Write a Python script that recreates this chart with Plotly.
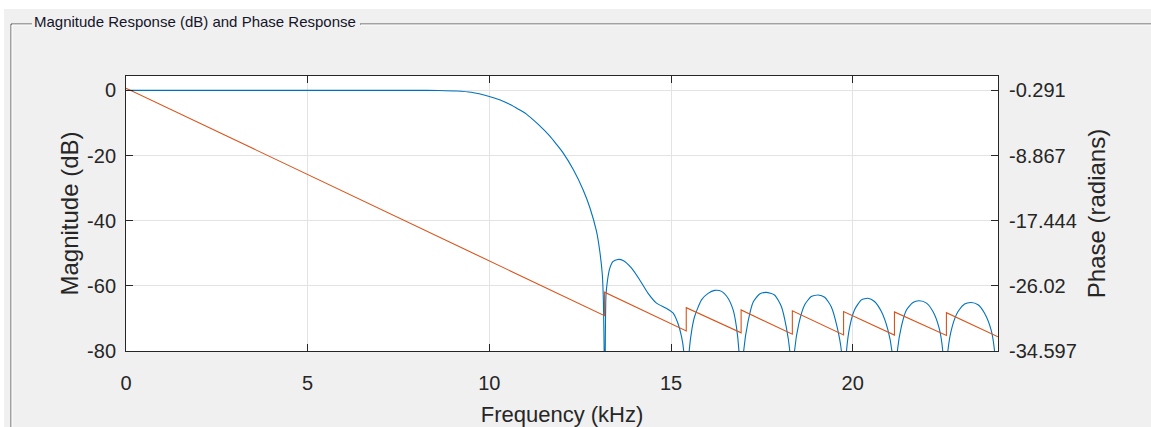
import plotly.graph_objects as go

# Magnitude response of the low-pass FIR filter (frequency in kHz, magnitude in dB)
freq_khz = [
    0.0, 2.0, 4.0, 6.0, 8.0, 8.6, 9.1, 9.5, 10.0, 10.3, 10.56, 10.8, 11.02, 11.34,
    11.66, 11.85, 12.03, 12.31, 12.58, 12.77, 12.95, 13.04, 13.11, 13.14, 13.16,
    13.175, 13.19, 13.21, 13.25, 13.31, 13.4, 13.54, 13.68, 13.91, 14.14, 14.37,
    14.6, 14.87, 15.06, 15.19, 15.29, 15.35, 15.42, 15.5, 15.58, 15.65, 15.84,
    16.02, 16.2, 16.39, 16.57, 16.71, 16.8, 16.87, 16.93, 17.0, 17.12, 17.26,
    17.44, 17.62, 17.85, 18.04, 18.17, 18.27, 18.34, 18.4, 18.52, 18.68, 18.86,
    19.05, 19.23, 19.41, 19.57, 19.69, 19.75, 19.83, 19.92, 20.05, 20.24, 20.42,
    20.6, 20.79, 20.97, 21.08, 21.15, 21.23, 21.34, 21.48, 21.66, 21.84, 22.03,
    22.21, 22.38, 22.48, 22.55, 22.62, 22.74, 22.9, 23.08, 23.26, 23.45, 23.63,
    23.81, 23.9, 24.0,
]
mag_db = [
    0.0, 0.0, 0.0, 0.0, 0.0, -0.05, -0.2, -0.6, -1.9, -3.0, -4.3, -5.8, -7.3, -10.4,
    -14.0, -16.6, -19.2, -24.3, -30.5, -36.1, -43.3, -49.4, -56.6, -65.0, -80.0,
    -100.0, -80.0, -63.0, -58.5, -54.8, -52.6, -51.9, -52.2, -54.5, -58.2, -62.3,
    -65.3, -66.9, -68.4, -71.5, -75.6, -80.0, -100.0, -80.0, -73.0, -69.4, -64.3,
    -62.3, -61.4, -61.7, -63.8, -67.4, -72.5, -80.0, -100.0, -80.0, -71.0, -65.0,
    -62.5, -62.0, -62.8, -66.4, -72.5, -80.0, -100.0, -80.0, -71.5, -65.8, -63.3,
    -62.8, -63.5, -66.4, -72.5, -80.0, -100.0, -80.0, -72.5, -67.4, -64.3, -63.8,
    -64.8, -67.9, -73.5, -80.0, -100.0, -80.0, -72.5, -67.4, -65.1, -64.6, -65.3,
    -67.9, -73.0, -80.0, -100.0, -80.0, -72.5, -67.9, -65.6, -65.1, -65.8, -68.4,
    -73.5, -79.5, -100.0,
]

# Linear phase, wrapped by +pi at every stop-band zero (radians)
phase_freq_khz = [
    0.0, 13.17, 13.17, 15.42, 15.42, 16.93, 16.93, 18.34, 18.34,
    19.75, 19.75, 21.15, 21.15, 22.58, 22.58, 24.0,
]
phase_rad = [
    0.0, -29.95, -26.85, -31.95, -28.90, -32.20, -29.20, -32.38, -29.30,
    -32.48, -29.40, -32.50, -29.45, -32.55, -29.55, -32.72,
]

freq_ticks = [0, 5, 10, 15, 20]
mag_ticks = [0, -20, -40, -60, -80]
mag_tick_text = ["0", "-20", "-40", "-60", "-80"]
phase_ticks = [-0.291, -8.867, -17.444, -26.02, -34.597]
phase_tick_text = ["-0.291", "-8.867", "-17.444", "-26.02", "-34.597"]

W, H = 1151, 427
L, R, T, B = 126, 153, 76, 76
PW, PH = W - L - R, H - T - B

MAG_RANGE = [-80, 4.4]
# the phase axis is scaled so that its ticks sit on the magnitude ticks
PH_SCALE = (phase_ticks[0] - phase_ticks[-1]) / (mag_ticks[0] - mag_ticks[-1])
PHASE_RANGE = [phase_ticks[-1], phase_ticks[0] + PH_SCALE * MAG_RANGE[1]]

FONT = "Liberation Sans, Arial, sans-serif"
TXT = "#262626"
BLUE = "#0072BD"
ORANGE = "#D95319"
GRID = "#e3e3e3"
ETCH = "#555555"


def xp(px):
    return (px - L) / PW


def yp(py):
    return (H - B - py) / PH


fig = go.Figure()
fig.add_trace(go.Scatter(
    x=freq_khz, y=mag_db, mode="lines", name="Magnitude",
    line=dict(color=BLUE, width=1.1, shape="spline", smoothing=0.6),
    hoverinfo="skip",
))
fig.add_trace(go.Scatter(
    x=phase_freq_khz, y=phase_rad, mode="lines", name="Phase", yaxis="y2",
    line=dict(color=ORANGE, width=1.1),
    hoverinfo="skip",
))

axis_common = dict(
    showline=True, linecolor=TXT, linewidth=1,
    ticks="inside", ticklen=7, tickcolor=TXT, tickwidth=1,
    zeroline=False, automargin=False,
    tickfont=dict(family=FONT, size=20, color=TXT),
)
title_font = dict(family=FONT, size=22, color=TXT)
vtitle_font = dict(family=FONT, size=24, color=TXT)

fig.update_layout(
    width=W, height=H,
    margin=dict(l=L, r=R, t=T, b=B, pad=0, autoexpand=False),
    paper_bgcolor="#f0f0f0",
    plot_bgcolor="#ffffff",
    showlegend=False,
    xaxis=dict(
        range=[0, 24], tickvals=freq_ticks, mirror="ticks",
        showgrid=True, gridcolor=GRID, gridwidth=1,
        ticklabelstandoff=14,
        title=dict(text="Frequency (kHz)", font=title_font, standoff=16),
        **axis_common,
    ),
    yaxis=dict(
        range=MAG_RANGE, tickvals=mag_ticks, ticktext=mag_tick_text,
        showgrid=True, gridcolor=GRID, gridwidth=1,
        ticklabelstandoff=5,
        title=dict(text="Magnitude (dB)", font=vtitle_font, standoff=1),
        **axis_common,
    ),
    yaxis2=dict(
        range=PHASE_RANGE, tickvals=phase_ticks, ticktext=phase_tick_text,
        overlaying="y", side="right", showgrid=False,
        ticklabelstandoff=6,
        title=dict(text="Phase (radians)", font=vtitle_font, standoff=12),
        **axis_common,
    ),
)

# panel: white window strips, etched frame and its caption
paper = dict(xref="paper", yref="paper")
shapes = [
    dict(type="rect", x0=xp(-10), x1=xp(W + 10), y0=yp(9), y1=yp(-10),
         fillcolor="#ffffff", line=dict(width=0), **paper),
    dict(type="rect", x0=xp(-10), x1=xp(4), y0=yp(H + 10), y1=yp(-10),
         fillcolor="#ffffff", line=dict(width=0), **paper),
]
for seg in [(11, 32), (360, W + 10)]:
    shapes.append(dict(type="line", x0=xp(seg[0]), x1=xp(seg[1]), y0=yp(24), y1=yp(24),
                       line=dict(color=ETCH, width=1), **paper))
    shapes.append(dict(type="line", x0=xp(seg[0] + 1), x1=xp(seg[1]), y0=yp(25), y1=yp(25),
                       line=dict(color="#ffffff", width=1), **paper))
shapes.append(dict(type="line", x0=xp(11), x1=xp(11), y0=yp(24), y1=yp(H + 10),
                   line=dict(color=ETCH, width=1), **paper))
shapes.append(dict(type="line", x0=xp(12), x1=xp(12), y0=yp(25), y1=yp(H + 10),
                   line=dict(color="#ffffff", width=1), **paper))
fig.update_layout(shapes=shapes)

fig.add_annotation(
    text="Magnitude Response (dB) and Phase Response",
    xref="paper", yref="paper", x=xp(32), y=yp(21),
    xanchor="left", yanchor="middle", showarrow=False,
    font=dict(family=FONT, size=15, color="#14142a"),
)

fig.write_html("out.html")
